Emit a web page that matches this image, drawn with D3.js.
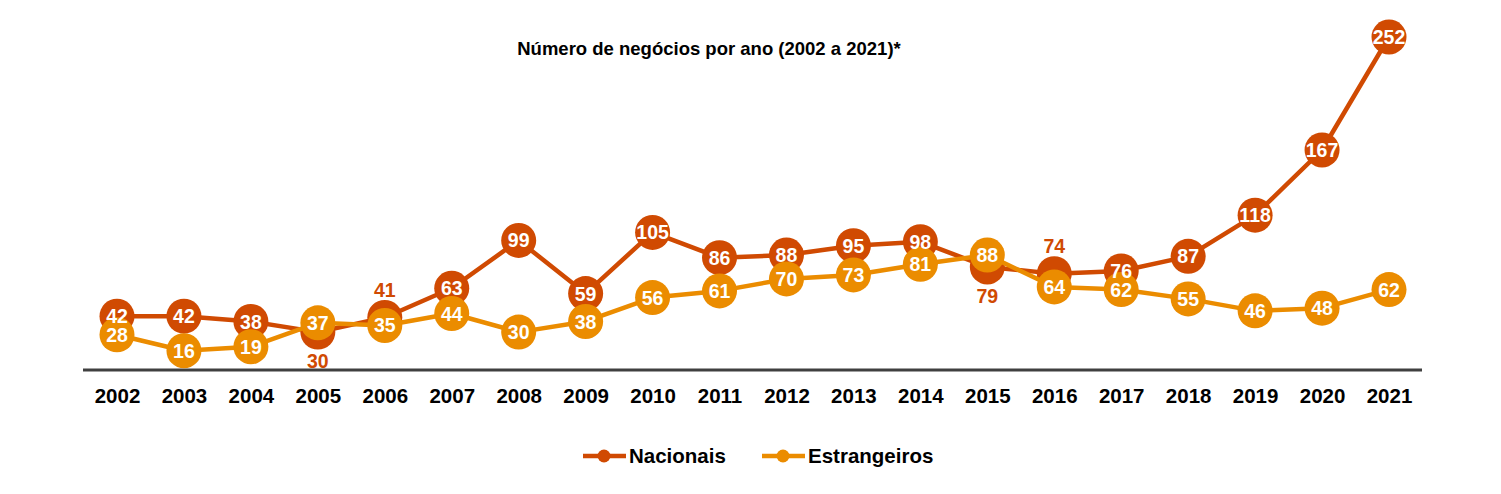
<!DOCTYPE html>
<html><head><meta charset="utf-8">
<script src="https://cdn.jsdelivr.net/npm/d3@7"></script>
<style>body{margin:0;background:#fff}svg{display:block;font-family:"Liberation Sans",Arial,sans-serif}</style>
</head><body><svg id="c" width="1501" height="494"></svg>
<script>
const years = ["2002","2003","2004","2005","2006","2007","2008","2009","2010","2011","2012","2013","2014","2015","2016","2017","2018","2019","2020","2021"];
const nacionais = [42,42,38,30,41,63,99,59,105,86,88,95,98,79,74,76,87,118,167,252];
const estrangeiros = [28,16,19,37,35,44,30,38,56,61,70,73,81,88,64,62,55,46,48,62];
// label placement for Nacionais: 0 = inside, 1 = above, -1 = below
const nacLabelPos = [0,0,0,-1,1,0,0,0,0,0,0,0,0,-1,1,0,0,0,0,0];
const title = "Número de negócios por ano (2002 a 2021)*";
const seriesNames = ["Nacionais","Estrangeiros"];
const colors = ["#D04A02","#EB8C00"];

const svg = d3.select("#c");
const x = d3.scalePoint().domain(years).range([117,1389]);
const y = d3.scaleLinear().domain([0,252]).range([372,37]);

svg.append("text").attr("x",709).attr("y",55).attr("text-anchor","middle")
  .attr("font-size",18.5).attr("font-weight","bold").attr("fill","#000").text(title);

// axis
const axis = d3.axisBottom(x).tickSize(0).tickPadding(18);
const gAx = svg.append("g").attr("transform","translate(0,370)").call(axis);
gAx.select(".domain").remove();
gAx.append("line").attr("x1",83).attr("x2",1422).attr("y1",0).attr("y2",0).attr("stroke","#404040").attr("stroke-width",3);
gAx.selectAll(".tick text").attr("font-size",20.5).attr("font-weight","bold").attr("fill","#000").attr("font-family","'Liberation Sans',Arial,sans-serif").attr("dy","0.75em");

const line = d3.line().x((d,i)=>x(years[i])).y(d=>y(d));
const R = 17.5;
const series = [nacionais, estrangeiros];

series.forEach((vals, si) => {
  const g = svg.append("g");
  g.append("path").datum(vals).attr("d",line).attr("fill","none").attr("stroke",colors[si]).attr("stroke-width",4.5).attr("stroke-linejoin","round");
  g.selectAll("circle").data(vals).join("circle")
    .attr("cx",(d,i)=>x(years[i])).attr("cy",d=>y(d)).attr("r",R).attr("fill",colors[si]);
});
series.forEach((vals, si) => {
  svg.append("g").selectAll("text").data(vals).join("text")
    .attr("x",(d,i)=>x(years[i]))
    .attr("y",(d,i)=>{ const p = si===0 ? nacLabelPos[i] : 0; return y(d) + (p===1 ? -28 : p===-1 ? 29 : 0); })
    .attr("dy","0.36em").attr("text-anchor","middle")
    .attr("font-size",19.5).attr("font-weight","bold")
    .attr("fill",(d,i)=> (si===0 && nacLabelPos[i]!==0) ? colors[0] : "#fff")
    .text(d=>d);
});

// legend
const lg = svg.append("g");
const legX = [583, 762];
seriesNames.forEach((n,i)=>{
  lg.append("line").attr("x1",legX[i]).attr("x2",legX[i]+43).attr("y1",456).attr("y2",456).attr("stroke",colors[i]).attr("stroke-width",4.5);
  lg.append("circle").attr("cx",legX[i]+21).attr("cy",456).attr("r",6.5).attr("fill",colors[i]);
  lg.append("text").attr("x",legX[i]+46).attr("y",456).attr("dy","0.36em").attr("font-size",20.5).attr("font-weight","bold").attr("fill","#000").text(n);
});
</script></body></html>
